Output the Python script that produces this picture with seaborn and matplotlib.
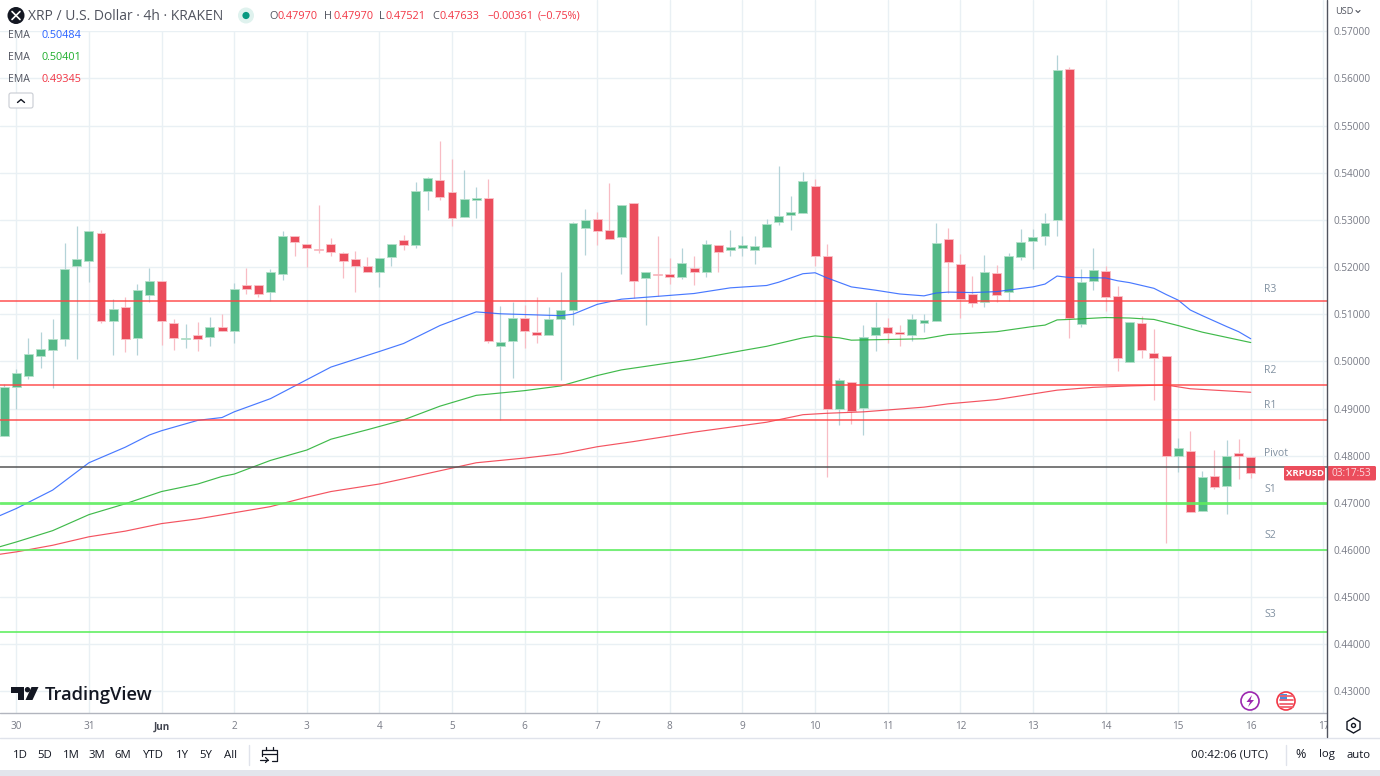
import pandas as pd
import seaborn as sns
import matplotlib.pyplot as plt
from matplotlib.patches import Circle, Polygon, Rectangle, FancyBboxPatch, RegularPolygon

# candles, one per 4h, oldest first
opens = [0.4842,0.4945,0.4970,0.5011,0.5025,0.5048,0.5202,0.5213,0.5273,0.5086,0.5115,0.5050,0.5140,0.5170,0.5081,0.5047,0.5057,0.5051,0.5072,0.5065,
         0.5161,0.5161,0.5147,0.5185,0.5265,0.5250,0.5239,0.5250,0.5230,0.5217,0.5203,0.5189,0.5222,0.5258,0.5246,0.5361,0.5385,0.5359,0.5307,0.5343,
         0.5347,0.5033,0.5044,0.5091,0.5063,0.5057,0.5089,0.5110,0.5282,0.5301,0.5278,0.5263,0.5336,0.5176,0.5185,0.5185,0.5180,0.5199,0.5189,0.5246,
         0.5237,0.5241,0.5237,0.5243,0.5296,0.5311,0.5315,0.5373,0.5224,0.4898,0.4957,0.4902,0.5055,0.5072,0.5062,0.5057,0.5081,0.5086,0.5260,0.5207,
         0.5142,0.5127,0.5188,0.5147,0.5222,0.5256,0.5267,0.5299,0.5621,0.5080,0.5170,0.5192,0.5139,0.4999,0.5082,0.5018,0.5012,0.4799,0.4810,0.4682,
         0.4757,0.4735,0.4806,0.4797]
highs = [0.4952,0.4984,0.5050,0.5062,0.5089,0.5252,0.5288,0.5277,0.5278,0.5133,0.5137,0.5164,0.5199,0.5170,0.5089,0.5080,0.5083,0.5094,0.5101,0.5166,
         0.5199,0.5161,0.5195,0.5277,0.5265,0.5250,0.5332,0.5261,0.5232,0.5235,0.5222,0.5219,0.5250,0.5269,0.5381,0.5392,0.5468,0.5430,0.5405,0.5370,
         0.5386,0.5117,0.5127,0.5119,0.5137,0.5115,0.5190,0.5296,0.5324,0.5317,0.5379,0.5332,0.5336,0.5189,0.5265,0.5220,0.5241,0.5224,0.5258,0.5246,
         0.5278,0.5267,0.5265,0.5301,0.5414,0.5350,0.5401,0.5387,0.5250,0.4965,0.4957,0.5078,0.5127,0.5091,0.5078,0.5101,0.5101,0.5294,0.5283,0.5228,
         0.5182,0.5226,0.5205,0.5230,0.5280,0.5280,0.5315,0.5650,0.5625,0.5196,0.5240,0.5202,0.5160,0.5084,0.5096,0.5069,0.5012,0.4838,0.4852,0.4768,
         0.4812,0.4833,0.4836,0.4797]
lows = [0.4842,0.4899,0.4963,0.4987,0.4943,0.5032,0.5006,0.5169,0.5081,0.5013,0.5019,0.5013,0.5125,0.5034,0.5025,0.5029,0.5021,0.5033,0.5065,0.5040,
        0.5144,0.5136,0.5129,0.5172,0.5223,0.5200,0.5229,0.5223,0.5176,0.5147,0.5190,0.5158,0.5202,0.5236,0.5240,0.5321,0.5342,0.5287,0.5307,0.5305,
        0.5039,0.4876,0.4965,0.5029,0.5038,0.5057,0.4960,0.5078,0.5226,0.5246,0.5260,0.5186,0.5135,0.5077,0.5139,0.5164,0.5175,0.5163,0.5179,0.5190,
        0.5224,0.5224,0.5207,0.5243,0.5289,0.5278,0.5315,0.5202,0.4754,0.4865,0.4868,0.4844,0.5021,0.5040,0.5033,0.5043,0.5062,0.5086,0.5145,0.5093,
        0.5115,0.5115,0.5127,0.5129,0.5214,0.5195,0.5247,0.5267,0.5049,0.5074,0.5152,0.5107,0.4979,0.4999,0.5008,0.4918,0.4615,0.4766,0.4681,0.4682,
        0.4729,0.4676,0.4751,0.47521]
closes = [0.4946,0.4976,0.5016,0.5027,0.5048,0.5197,0.5218,0.5277,0.5086,0.5112,0.5047,0.5152,0.5170,0.5086,0.5050,0.5050,0.5047,0.5072,0.5065,0.5154,
          0.5153,0.5144,0.5190,0.5265,0.5253,0.5240,0.5236,0.5233,0.5212,0.5202,0.5190,0.5219,0.5250,0.5246,0.5362,0.5388,0.5348,0.5304,0.5345,0.5347,
          0.5044,0.5042,0.5093,0.5065,0.5057,0.5089,0.5109,0.5294,0.5299,0.5277,0.5260,0.5332,0.5170,0.5189,0.5184,0.5178,0.5208,0.5189,0.5250,0.5231,
          0.5243,0.5246,0.5245,0.5292,0.5309,0.5316,0.5383,0.5223,0.4898,0.4961,0.4895,0.5052,0.5072,0.5060,0.5059,0.5089,0.5088,0.5252,0.5210,0.5133,
          0.5123,0.5190,0.5140,0.5223,0.5253,0.5264,0.5294,0.5617,0.5093,0.5168,0.5194,0.5137,0.5008,0.5084,0.5024,0.5008,0.4799,0.4817,0.4681,0.4754,
          0.4734,0.4800,0.4799,0.47633]

# EMA readings, candle number and price
blue_idx = [-0.35,1,4,7,10,12,13,16,18,19,22,27,31,33,36,39,41,46,47,49,51,55,57,60,63,64,66,67,68,70,72,74,76,77,78,80,82,85,86,87,88,91,92,93,95,96,97,98,99,101,102,103]
blue_val = [0.4673,0.4688,0.4727,0.4785,0.4818,0.4844,0.4853,0.4875,0.4881,0.4893,0.4921,0.4988,0.5021,0.5038,0.5076,0.5105,0.5101,0.5097,0.5100,0.5121,0.5132,0.5140,0.5144,0.5156,0.5161,0.5168,0.5186,0.5188,0.5177,0.5158,0.5151,0.5143,0.5139,0.5145,0.5147,0.5146,0.5148,0.5158,0.5164,0.5181,0.5178,0.5177,0.5171,0.5167,0.5155,0.5142,0.5130,0.5109,0.5097,0.5074,0.5063,0.5048]
green_idx = [-0.35,1,4,7,10,13,16,18,19,22,25,27,30,33,36,39,43,46,49,51,55,57,61,63,66,67,69,70,72,76,78,82,85,86,87,88,91,93,95,97,99,101,103]
green_val = [0.4607,0.4617,0.4641,0.4675,0.4698,0.4724,0.4740,0.4756,0.4761,0.4790,0.4812,0.4835,0.4855,0.4876,0.4905,0.4928,0.4938,0.4948,0.4970,0.4982,0.4997,0.5004,0.5023,0.5032,0.5050,0.5054,0.5050,0.5045,0.5046,0.5048,0.5057,0.5063,0.5074,0.5077,0.5088,0.5089,0.5093,0.5092,0.5089,0.5076,0.5062,0.5051,0.5040]
red_idx = [-0.35,1,4,7,10,13,16,19,22,25,27,31,33,39,43,46,49,52,57,63,66,68,71,76,78,82,85,87,88,90,93,96,97,98,103]
red_val = [0.4591,0.4596,0.4610,0.4628,0.4640,0.4656,0.4666,0.4679,0.4692,0.4712,0.4724,0.4740,0.4751,0.4785,0.4795,0.4804,0.4819,0.4830,0.4850,0.4871,0.4887,0.4890,0.4893,0.4903,0.4910,0.4919,0.4931,0.4939,0.4941,0.4945,0.4948,0.4950,0.4946,0.4942,0.49345]

pivot_names = ['R3','R2','R1','Pivot','S1','S2','S3']
pivot_vals = [0.5128,0.4951,0.4875,0.4776,0.4700,0.4601,0.4426]
pivot_label_vals = [0.5153,0.4981,0.4906,0.4804,0.4728,0.4630,0.4463]

price_ticks = [0.43,0.44,0.45,0.46,0.47,0.48,0.49,0.50,0.51,0.52,0.53,0.54,0.55,0.56,0.57]
day_labels = ['30','31','Jun','2','3','4','5','6','7','8','9','10','11','12','13','14','15','16','17']

UP = '#53b987'
DOWN = '#eb4d5c'
GRID = '#e9f0f4'
TXT = '#787b86'
FONT = 'Open Sans'

sns.set_theme(style='white')
plt.rcParams['font.family'] = [FONT, 'DejaVu Sans']

fig = plt.figure(figsize=(13.8, 7.76), dpi=100, facecolor='white')
ax = fig.add_axes([0, (776-713)/776, 1327/1380, 713/776])

idx = list(range(len(opens)))
colors = [UP if c >= o else DOWN for o, c in zip(opens, closes)]
wick_colors = ['#b4d3d8' if c >= o else '#f8bcc4' for o, c in zip(opens, closes)]
edge_colors = ['#b5e0cb' if c >= o else '#f9c3c9' for o, c in zip(opens, closes)]

ax.vlines(idx, lows, highs, colors=wick_colors, linewidth=0.9, zorder=2)
bottoms = [min(o, c) for o, c in zip(opens, closes)]
heights = [abs(c-o) for o, c in zip(opens, closes)]
ax.bar(idx, heights, bottom=bottoms, width=0.74, color=colors, edgecolor=edge_colors, linewidth=0.6, zorder=3)

ema = pd.concat([
    pd.DataFrame({'n': blue_idx, 'price': blue_val, 'ema': 'fast'}),
    pd.DataFrame({'n': green_idx, 'price': green_val, 'ema': 'mid'}),
    pd.DataFrame({'n': red_idx, 'price': red_val, 'ema': 'slow'}),
])
sns.lineplot(data=ema, x='n', y='price', hue='ema', palette={'fast': '#2962ff', 'mid': '#1fae2c', 'slow': '#f23645'},
             linewidth=0.85, alpha=0.85, legend=False, errorbar=None, ax=ax, zorder=4)

# pivot levels
for name, val, lab in zip(pivot_names, pivot_vals, pivot_label_vals):
    if name == 'Pivot':
        ax.axhline(val, color='#555555', lw=1.3, alpha=0.85, zorder=5)
    elif name.startswith('R'):
        ax.axhline(val, color='#ff4444', lw=1.2, alpha=0.85, zorder=5)
    else:
        ax.axhline(val, color='#5fee5f', lw=2.0 if name == 'S1' else 1.3, alpha=0.9, zorder=5)
    ax.text(104.1, lab, name, fontsize=7.5, color='#8090a0', va='center', ha='left', zorder=6)

ax.set_xlim(-0.347, 109.3)
ax.set_ylim(0.56-(713-78.5)/4715, 0.56+78.5/4715)
ax.set_xticks(list(range(1, 110, 6)))
ax.set_xticklabels(day_labels)
ax.set_yticks(price_ticks)
ax.set_yticklabels([f'{p:.5f}' for p in price_ticks])
ax.yaxis.tick_right()
ax.tick_params(axis='x', length=0, pad=6, labelsize=7.2, labelcolor=TXT)
ax.tick_params(axis='y', length=0, pad=5, labelsize=7.2, labelcolor=TXT)
ax.get_xticklabels()[2].set_color('#434651')
ax.get_xticklabels()[2].set_fontweight('bold')
ax.grid(True, color=GRID, linewidth=1)
ax.set_axisbelow(True)
ax.set_xlabel('')
ax.set_ylabel('')
for s in ax.spines.values():
    s.set_visible(False)

# toolbar, header and the other chrome, in screen pixels
ui = fig.add_axes([0, 0, 1, 1], facecolor='none')
ui.set_xlim(0, 1380)
ui.set_ylim(776, 0)
ui.axis('off')

ui.add_patch(Rectangle((0, 0), 596, 31, fc='white', ec='none'))
ui.add_patch(Rectangle((1328, 714), 52, 23, fc='white', ec='none'))
ui.add_patch(Rectangle((0, 738), 1380, 32, fc='white', ec='none'))
ui.add_patch(Rectangle((0, 770), 1380, 6, fc='#e3e5ec', ec='none'))
ui.plot([0, 1327], [713, 713], color='#b2b5be', lw=1)
ui.plot([0, 1380], [737.5, 737.5], color='#e0e3eb', lw=1)
ui.plot([1327, 1327], [0, 737], color='#50535e', lw=1)

ui.add_patch(Circle((16, 15.5), 8.5, fc='#131722', ec='none'))
ui.plot([12, 20], [11.5, 19.5], color='white', lw=1.2)
ui.plot([12, 20], [19.5, 11.5], color='white', lw=1.2)
ui.text(28, 16, 'XRP / U.S. Dollar · 4h · KRAKEN', fontsize=10, color='#50535e', va='center')
ui.add_patch(Circle((246, 15.5), 8, fc='#dff2ee', ec='none'))
ui.add_patch(Circle((246, 15.5), 3.6, fc='#089981', ec='none'))

ohlc_labels = ['O', 'H', 'L', 'C']
ohlc_vals = ['0.47970', '0.47970', '0.47521', '0.47633']
for lab, val, lx, vx in zip(ohlc_labels, ohlc_vals, [269, 324, 379, 432.5], [277.5, 333, 386, 440]):
    ui.text(lx, 16.5, lab, fontsize=7.8, color='#50535e', va='center')
    ui.text(vx, 16.5, val, fontsize=7.8, color='#f23645', va='center')
ui.text(487, 16.5, '−0.00361', fontsize=7.8, color='#f23645', va='center')
ui.text(538, 16.5, '(−0.75%)', fontsize=7.8, color='#f23645', va='center')

ema_vals = ['0.50484', '0.50401', '0.49345']
ema_cols = ['#2962ff', '#1fae2c', '#f23645']
for yy, val, col in zip([36, 58, 80], ema_vals, ema_cols):
    ui.text(8, yy, 'EMA', fontsize=7.6, color='#50535e', va='center')
    ui.text(42, yy, val, fontsize=7.8, color=col, va='center')
ui.add_patch(FancyBboxPatch((9, 93), 24, 15, boxstyle='round,pad=0,rounding_size=2', fc='white', ec='#c9ccd3', lw=0.8))
ui.plot([17.5, 21, 24.5], [102.5, 99.5, 102.5], color='#131722', lw=1)

ui.text(1335, 11.5, 'USD', fontsize=6.6, color='#50535e', va='center')
ui.plot([1356, 1358, 1360], [10.5, 12.5, 10.5], color='#50535e', lw=0.8)

# last price tags
ui.add_patch(FancyBboxPatch((1284, 466), 41, 14.5, boxstyle='round,pad=0,rounding_size=1.5', fc=DOWN, ec='none'))
ui.add_patch(FancyBboxPatch((1327.5, 466), 48.5, 14.5, boxstyle='round,pad=0,rounding_size=1.5', fc=DOWN, ec='none'))
ui.text(1304.5, 473.5, 'XRPUSD', fontsize=6.8, color='white', va='center', ha='center', fontweight='bold')
ui.text(1351.5, 473.5, '03:17:53', fontsize=7.2, color='#fbdde0', va='center', ha='center')

# logo
ui.add_patch(Polygon([(11, 687), (24, 687), (24, 700), (17.5, 700), (17.5, 692.5), (11, 692.5)], fc='#131722', ec='none'))
ui.add_patch(Circle((27.5, 689.7), 2.7, fc='#131722', ec='none'))
ui.add_patch(Polygon([(31.5, 687), (38.5, 687), (32.5, 700), (25.5, 700)], fc='#131722', ec='none'))
ui.text(44.5, 694.5, 'TradingView', fontsize=13.2, color='#131722', va='center', fontweight='semibold')

ui.add_patch(Circle((1250, 701), 9, fc='white', ec='#9c27b0', lw=1.2))
ui.add_patch(Polygon([(1252, 695), (1246.5, 702), (1250, 702), (1248, 707), (1254, 700), (1250.5, 700)], fc='#9c27b0', ec='none'))
ui.add_patch(Circle((1286, 701), 9, fc='white', ec='#f23645', lw=1.2))
for yy in [696, 700, 704, 707]:
    ui.plot([1279.5, 1292.5], [yy, yy], color='#f0606c', lw=1.3)
ui.add_patch(Rectangle((1280, 694), 6.5, 6.5, fc='#4a8fe0', ec='none'))

ui.add_patch(RegularPolygon((1353.5, 725.5), 6, radius=7.5, fc='white', ec='#131722', lw=1))
ui.add_patch(Circle((1353.5, 725.5), 2, fc='white', ec='#131722', lw=1))

# bottom bar
ranges = ['1D', '5D', '1M', '3M', '6M', 'YTD', '1Y', '5Y', 'All']
range_x = [20, 45, 71, 97, 123, 153, 182, 206, 231]
for lab, rx in zip(ranges, range_x):
    ui.text(rx, 755, lab, fontsize=8.2, color='#131722', va='center', ha='center')
ui.plot([248.5, 248.5], [745, 765], color='#e0e3eb', lw=1)
ui.plot([262, 277, 277, 272], [750, 750, 761, 761], color='#131722', lw=0.9)
ui.plot([262, 262], [750, 756], color='#131722', lw=0.9)
ui.plot([262, 277], [753.5, 753.5], color='#131722', lw=0.9)
ui.plot([266, 266], [747, 750], color='#131722', lw=0.9)
ui.plot([273, 273], [747, 750], color='#131722', lw=0.9)
ui.plot([260, 268], [760, 760], color='#131722', lw=0.9)
ui.plot([265.5, 268, 265.5], [757.5, 760, 762.5], color='#131722', lw=0.9)

ui.text(1191, 755, '00:42:06 (UTC)', fontsize=8.2, color='#131722', va='center')
ui.plot([1285.5, 1285.5], [745, 765], color='#e0e3eb', lw=1)
ui.text(1301, 755, '%', fontsize=9, color='#131722', va='center', ha='center')
ui.text(1327, 755, 'log', fontsize=8.2, color='#131722', va='center', ha='center')
ui.text(1359, 755, 'auto', fontsize=8.2, color='#131722', va='center', ha='center')

fig.savefig('out.png', dpi=100)
plt.close(fig)
